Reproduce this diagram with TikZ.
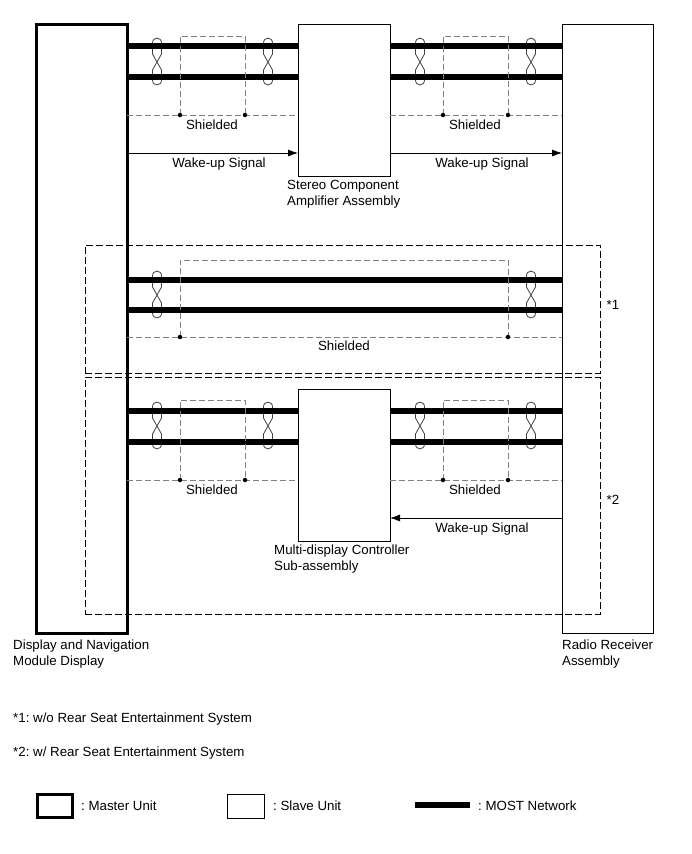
\documentclass[tikz,border=0pt]{standalone}
\usepackage{fontspec}
\setmainfont{Liberation Sans}
\usetikzlibrary{arrows.meta}
\tikzset{
  masterbox/.style={draw,line width=3pt,outer sep=0pt},
  slavebox/.style={draw,line width=1pt,outer sep=0pt},
  most/.style={line width=6pt},
  shield/.style={gray,dash pattern=on 6pt off 3pt,line width=1pt},
  optionbox/.style={draw,dash pattern=on 7pt off 3pt,line width=1pt,outer sep=0pt},
  wakeup/.style={-{Latex[length=10pt,width=7pt]},line width=0.8pt},
  twisted/.style={line width=0.8pt,black!75},
  junction/.style={circle,fill,inner sep=0pt,minimum size=4.5pt},
  lbl/.style={font=\fontsize{13.3}{16}\selectfont,inner sep=0pt,align=left},
}
\newcommand{\twistpair}[2]{% x and y of the crossing
  \draw[twisted] (#1,#2) -- (#1+4.5,#2-8) -- (#1+4.5,#2-19)
    .. controls (#1+4.5,#2-25.5) and (#1-4.5,#2-25.5) .. (#1-4.5,#2-19) -- (#1-4.5,#2-8)
    -- (#1,#2)
    -- (#1+4.5,#2+8) -- (#1+4.5,#2+18)
    .. controls (#1+4.5,#2+24.5) and (#1-4.5,#2+24.5) .. (#1-4.5,#2+18) -- (#1-4.5,#2+8)
    -- cycle;
}
\begin{document}
\begin{tikzpicture}[x=1pt,y=-1pt]
  \useasboundingbox (0,0) rectangle (691,854);
  % units
  \node[masterbox,minimum width=91pt,minimum height=609pt,anchor=north west] (master) at (36,24) {};
  \node[slavebox,minimum width=91pt,minimum height=609pt,anchor=north west] (radio) at (562,24) {};
  \node[slavebox,minimum width=92pt,minimum height=152pt,anchor=north west] (amp) at (298,24) {};
  \node[slavebox,minimum width=92pt,minimum height=152pt,anchor=north west] (multi) at (298,389) {};
  % optional parts
  \node[optionbox,minimum width=515pt,minimum height=128pt,anchor=north west] (opta) at (85,245) {};
  \node[optionbox,minimum width=515pt,minimum height=237pt,anchor=north west] (optb) at (85,377) {};
  % twisted pairs
  \foreach \x/\y in {157/62,268/62,420/62,531/62,157/295,531/295,157/426,268/426,420/426,531/426}
    \twistpair{\x}{\y};
  % network lines and shields, first row
  \foreach \y/\top/\low in {46/36/115,411/400/480} {
    \coordinate (m1) at (master.east |- 0,\y);
    \coordinate (m2) at (master.east |- 0,\y+30.5);
    \draw[most] (master.east |- m1) -- (amp.west |- m1);
    \draw[most] (master.east |- m2) -- (amp.west |- m2);
    \draw[most] (amp.east |- m1) -- (radio.west |- m1);
    \draw[most] (amp.east |- m2) -- (radio.west |- m2);
    \draw[shield] (master.east |- 0,\low) -- (amp.west |- 0,\low);
    \draw[shield] (amp.east |- 0,\low) -- (radio.west |- 0,\low);
    \draw[shield] (180,\low) |- (245,\top) -- (245,\low);
    \draw[shield] (443,\low) |- (508,\top) -- (508,\low);
    \foreach \x in {180,245,443,508}
      \node[junction] (j\x) at (\x,\low) {};
    \node[lbl] (sa) at (212,\low+10) {Shielded};
    \node[lbl] (sb) at (475,\low+10) {Shielded};
  }
  % network lines and shield, second row
  \draw[most] (master.east |- 0,280) -- (radio.west |- 0,280);
  \draw[most] (master.east |- 0,310) -- (radio.west |- 0,310);
  \draw[shield] (master.east |- 0,337) -- (radio.west |- 0,337);
  \draw[shield] (180,337) |- (508,260) -- (508,337);
  \node[junction] (ja) at (180,337) {};
  \node[junction] (jb) at (508,337) {};
  \node[lbl] (sc) at (344,346) {Shielded};
  % wake-up signals
  \draw[wakeup] (master.east |- 0,153) -- (amp.west |- 0,153);
  \draw[wakeup] (amp.east |- 0,153) -- (radio.west |- 0,153);
  \draw[wakeup] (radio.west |- 0,518) -- (multi.east |- 0,518);
  \node[lbl] at (219,164) {Wake-up Signal};
  \node[lbl] at (482,164) {Wake-up Signal};
  \node[lbl] at (482,529) {Wake-up Signal};
  % names
  \node[lbl,anchor=north west] at (287,180) {Stereo Component\\Amplifier Assembly};
  \node[lbl,anchor=north west] at (274,545) {Multi-display Controller\\Sub-assembly};
  \node[lbl,anchor=north west] at (13,640) {Display and Navigation\\Module Display};
  \node[lbl,anchor=north west] at (562,640) {Radio Receiver\\Assembly};
  \node[lbl] at (613,305) {*1};
  \node[lbl] at (613,500) {*2};
  % notes and legend
  \node[lbl,anchor=west] at (13,719) {\frenchspacing *1: w/o Rear Seat Entertainment System};
  \node[lbl,anchor=west] at (13,753) {\frenchspacing *2: w/ Rear Seat Entertainment System};
  \node[masterbox,minimum width=35pt,minimum height=23pt,anchor=north west] (keym) at (37,794) {};
  \node[slavebox,minimum width=37pt,minimum height=24pt,anchor=north west] (keys) at (227,794) {};
  \node[lbl,anchor=west] (lm) at (81,806) {\frenchspacing : Master Unit};
  \node[lbl,anchor=west] (ls) at (273,806) {\frenchspacing : Slave Unit};
  \node[lbl,anchor=west] (ln) at (478,806) {\frenchspacing : MOST Network};
  \coordinate (keyn) at (415,805);
  \draw[most] (keyn) -- (470,805);
\end{tikzpicture}
\end{document}
